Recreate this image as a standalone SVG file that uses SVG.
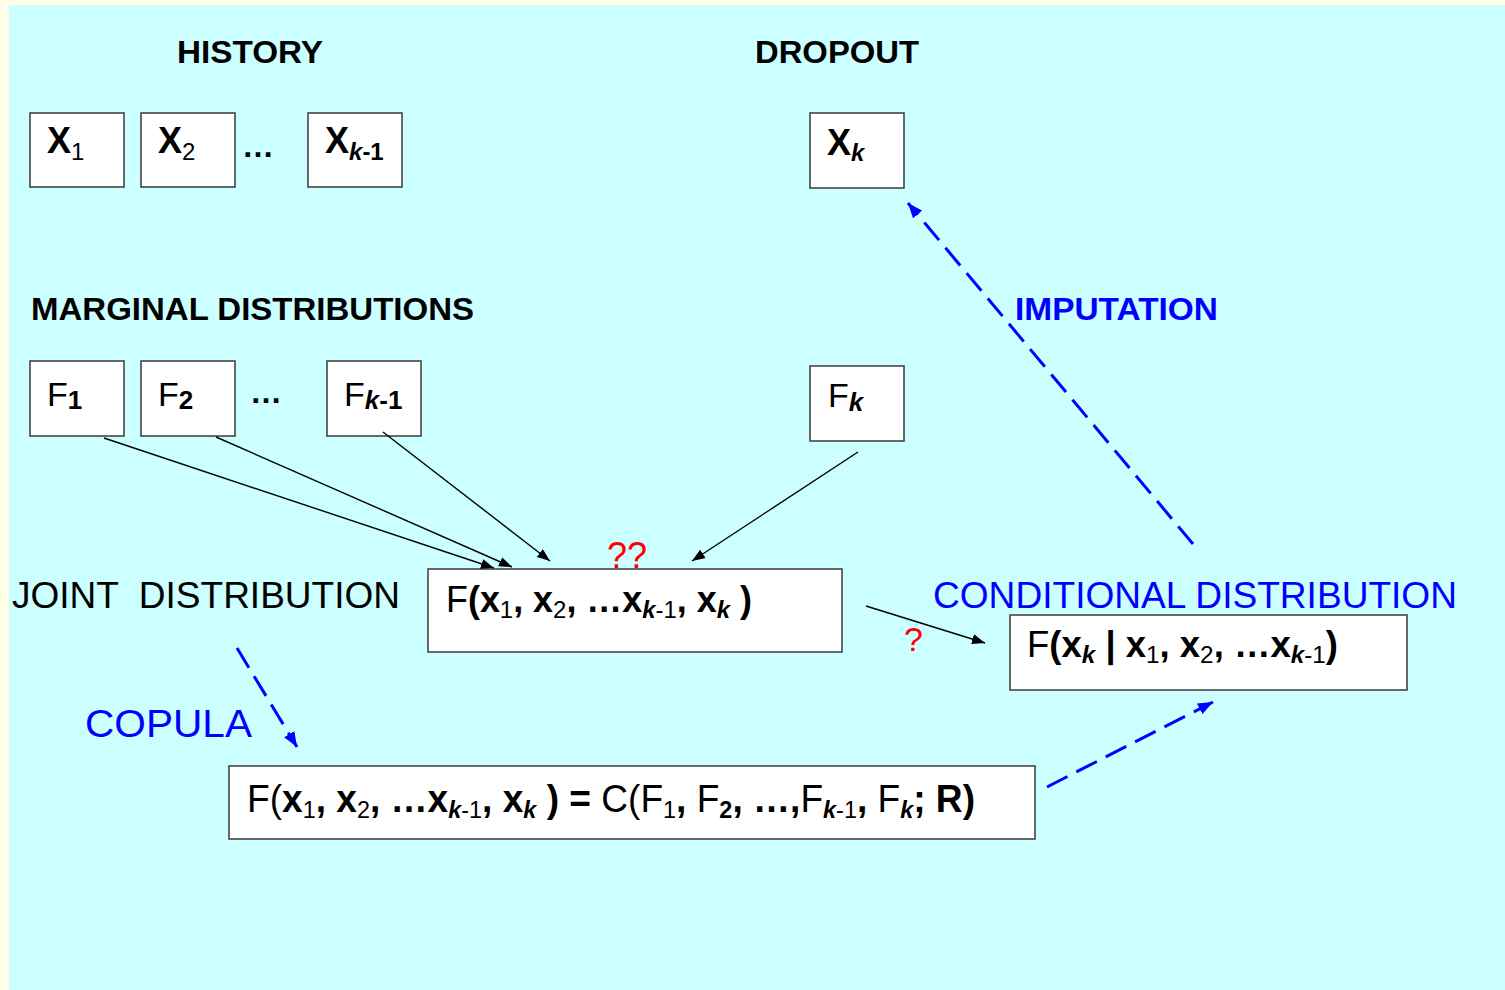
<svg xmlns="http://www.w3.org/2000/svg" width="1505" height="990" viewBox="0 0 1505 990">
  <defs>
    <style>
      .box { fill: #ffffff; stroke: #3a3a3a; stroke-width: 1.5; }
      .t { font-family: "Liberation Sans", Arial, Helvetica, sans-serif; }
      .head { font-size: 32px; font-weight: bold; fill: #000; }
      .bluehead { font-size: 32px; font-weight: bold; fill: #0000ff; }
      .label { font-size: 36px; fill: #000; }
      .bluelabel { font-size: 36px; fill: #0000ff; }
      .var { font-size: 36px; font-weight: bold; fill: #000; }
      .marg { font-size: 34px; fill: #000; }
      .sub { font-size: 24px; }
      .msub { font-size: 26px; font-weight: bold; }
      .b { font-weight: bold; }
      .n { font-weight: normal; }
      .bi { font-weight: bold; font-style: italic; }
      .q { font-size: 36px; fill: #ff0000; }
      .solid { stroke: #000; stroke-width: 1.4; fill: none; }
      .dash { stroke: #0000ff; stroke-width: 3; fill: none; stroke-dasharray: 23 10; }
    </style>
    <marker id="ah" markerUnits="userSpaceOnUse" markerWidth="13" markerHeight="10" refX="13" refY="5" orient="auto">
      <path d="M0,0 L13,5 L0,10 z" fill="#000"/>
    </marker>
    <marker id="ahb" markerUnits="userSpaceOnUse" markerWidth="15" markerHeight="12" refX="15" refY="6" orient="auto">
      <path d="M0,0 L15,6 L0,12 z" fill="#0000ff"/>
    </marker>
  </defs>

  <!-- page background with cyan panel -->
  <rect x="0" y="0" width="1505" height="990" fill="#ffffe5"/>
  <rect x="9" y="5" width="1496" height="985" fill="#ccffff"/>

  <!-- section headings -->
  <g id="headings" class="t">
    <text class="head" x="177" y="63" textLength="146" lengthAdjust="spacingAndGlyphs">HISTORY</text>
    <text class="head" x="755" y="63" textLength="164" lengthAdjust="spacingAndGlyphs">DROPOUT</text>
    <text class="head" x="31" y="320" textLength="443" lengthAdjust="spacingAndGlyphs">MARGINAL DISTRIBUTIONS</text>
    <text class="bluehead" x="1015" y="320" textLength="203" lengthAdjust="spacingAndGlyphs">IMPUTATION</text>
    <text class="label" x="12" y="608" xml:space="preserve" textLength="388" lengthAdjust="spacingAndGlyphs">JOINT  DISTRIBUTION</text>
    <text class="bluelabel" x="85" y="737" style="font-size:39px" textLength="167" lengthAdjust="spacingAndGlyphs">COPULA</text>
    <text class="bluelabel" x="933" y="608" textLength="524" lengthAdjust="spacingAndGlyphs">CONDITIONAL DISTRIBUTION</text>
  </g>

  <!-- history variables -->
  <g id="x1" class="t">
    <rect class="box" x="30" y="113" width="94" height="74"/>
    <text class="var" x="47" y="153">X<tspan class="sub n" dy="7">1</tspan></text>
  </g>
  <g id="x2" class="t">
    <rect class="box" x="141" y="113" width="94" height="74"/>
    <text class="var" x="158" y="153">X<tspan class="sub n" dy="7">2</tspan></text>
  </g>
  <text class="t var" x="242" y="157" style="font-size:32px">…</text>
  <g id="xk1" class="t">
    <rect class="box" x="308" y="113" width="94" height="74"/>
    <text class="var" x="325" y="153">X<tspan class="sub bi" dy="7">k</tspan><tspan class="sub b">-1</tspan></text>
  </g>
  <g id="xk" class="t">
    <rect class="box" x="810" y="113" width="94" height="75"/>
    <text class="var" x="827" y="155">X<tspan class="sub bi" dy="6">k</tspan></text>
  </g>

  <!-- marginal distributions -->
  <g id="f1" class="t">
    <rect class="box" x="30" y="361" width="94" height="75"/>
    <text class="marg" x="47" y="406">F<tspan class="msub" dy="3">1</tspan></text>
  </g>
  <g id="f2" class="t">
    <rect class="box" x="141" y="361" width="94" height="75"/>
    <text class="marg" x="158" y="406">F<tspan class="msub" dy="3">2</tspan></text>
  </g>
  <text class="t var" x="250" y="403" style="font-size:32px">…</text>
  <g id="fk1" class="t">
    <rect class="box" x="327" y="361" width="94" height="75"/>
    <text class="marg" x="344" y="406">F<tspan class="msub bi" dy="3">k</tspan><tspan class="msub">-1</tspan></text>
  </g>
  <g id="fk" class="t">
    <rect class="box" x="810" y="366" width="94" height="75"/>
    <text class="marg" x="828" y="407">F<tspan class="msub bi" dy="4">k</tspan></text>
  </g>

  <!-- joint distribution -->
  <g id="joint" class="t">
    <rect class="box" x="428" y="569" width="414" height="83"/>
    <text class="label" x="446" y="612" textLength="306" lengthAdjust="spacingAndGlyphs">F<tspan class="b">(x</tspan><tspan class="sub" dy="6">1</tspan><tspan class="b" dy="-6">, x</tspan><tspan class="sub" dy="6">2</tspan><tspan class="b" dy="-6">, …x</tspan><tspan class="sub bi" dy="6">k</tspan><tspan class="sub">-1</tspan><tspan class="b" dy="-6">, x</tspan><tspan class="sub bi" dy="6">k</tspan><tspan class="b" dy="-6"> )</tspan></text>
  </g>

  <!-- conditional distribution -->
  <g id="conditional" class="t">
    <rect class="box" x="1010" y="615" width="397" height="75"/>
    <text class="label" x="1027" y="657" textLength="311" lengthAdjust="spacingAndGlyphs">F<tspan class="b">(x</tspan><tspan class="sub bi" dy="6">k</tspan><tspan class="b" dy="-6"> | x</tspan><tspan class="sub" dy="6">1</tspan><tspan class="b" dy="-6">, x</tspan><tspan class="sub" dy="6">2</tspan><tspan class="b" dy="-6">, …x</tspan><tspan class="sub bi" dy="6">k</tspan><tspan class="sub">-1</tspan><tspan class="b" dy="-6">)</tspan></text>
  </g>

  <!-- copula representation -->
  <g id="copula" class="t">
    <rect class="box" x="229" y="766" width="806" height="73"/>
    <text class="label" x="247" y="812" style="font-size:38px" textLength="728" lengthAdjust="spacingAndGlyphs">F(<tspan class="b">x</tspan><tspan class="sub" dy="6">1</tspan><tspan class="b" dy="-6">, x</tspan><tspan class="sub" dy="6">2</tspan><tspan class="b" dy="-6">, …x</tspan><tspan class="sub bi" dy="6">k</tspan><tspan class="sub">-1</tspan><tspan class="b" dy="-6">, x</tspan><tspan class="sub bi" dy="6">k</tspan><tspan class="b" dy="-6"> ) = </tspan>C(F<tspan class="sub" dy="6">1</tspan><tspan class="b" dy="-6">, </tspan>F<tspan class="sub b" dy="6">2</tspan><tspan class="b" dy="-6">, …,</tspan>F<tspan class="sub bi" dy="6">k</tspan><tspan class="sub">-1</tspan><tspan class="b" dy="-6">, </tspan>F<tspan class="sub bi" dy="6">k</tspan><tspan class="b" dy="-6">; R)</tspan></text>
  </g>

  <!-- question marks -->
  <g id="marks" class="t">
    <text class="q" x="607" y="568">??</text>
    <text class="q" x="904" y="651" style="font-size:34px">?</text>
  </g>

  <!-- connectors -->
  <g id="connectors">
    <line class="solid" x1="104" y1="438" x2="494" y2="568" marker-end="url(#ah)"/>
    <line class="solid" x1="216" y1="437" x2="512" y2="567" marker-end="url(#ah)"/>
    <line class="solid" x1="383" y1="432" x2="550" y2="561" marker-end="url(#ah)"/>
    <line class="solid" x1="858" y1="452" x2="692" y2="561" marker-end="url(#ah)"/>
    <line class="solid" x1="866" y1="606" x2="985" y2="643" marker-end="url(#ah)"/>
    <line class="dash" x1="237" y1="648" x2="297" y2="747" marker-end="url(#ahb)"/>
    <line class="dash" x1="1047" y1="787" x2="1213" y2="702" marker-end="url(#ahb)"/>
    <line class="dash" x1="1193" y1="544" x2="908" y2="203" marker-end="url(#ahb)"/>
  </g>
</svg>
